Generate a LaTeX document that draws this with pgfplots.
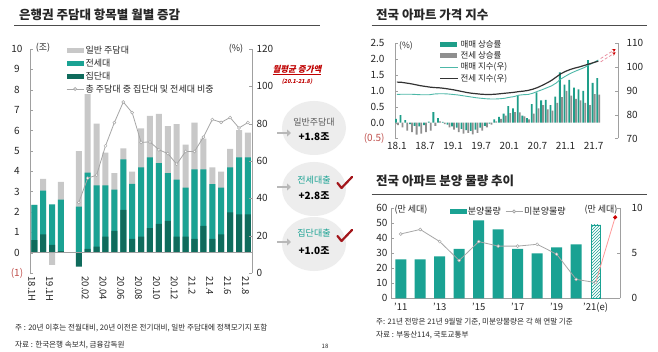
\documentclass[border=0pt]{standalone}
\usepackage{fontspec}
\setmainfont{Noto Sans CJK KR}
\newfontfamily\krit{Noto Sans CJK KR}[FakeSlant=0.22]
\usepackage{pgfplots}
\usepackage{pgfplotstable}
\pgfplotsset{compat=1.18}
\usetikzlibrary{patterns,arrows.meta}
\definecolor{tealA}{HTML}{1AA293}
\definecolor{tealD}{HTML}{0F6B5C}
\definecolor{lgray}{HTML}{C8C8C8}
\definecolor{lngray}{HTML}{A6A6A6}
\definecolor{negred}{HTML}{C0504D}
\definecolor{axgray}{HTML}{A0A0A0}
\definecolor{txt}{HTML}{262626}
\definecolor{tealB}{HTML}{1E9E89}
\definecolor{gbar}{HTML}{8F8F8F}
\definecolor{tealL}{HTML}{4DB8A8}
\definecolor{dred}{HTML}{A3161B}
\definecolor{pinkA}{HTML}{E8879A}
\definecolor{circ}{HTML}{EDEDED}

\pgfplotsset{
 barleg/.style={legend image code/.code={\fill[##1] (0pt,-2.5pt) rectangle (17pt,2.5pt);}},
 lineleg/.style={legend image code/.code={\draw[##1] (0pt,0pt) -- (18pt,0pt);}},
}

% left chart: cumulative tops (gray=total, teal=jeonse+group, dark=group), r = share (%)
\pgfplotstableread{
i g t d r
0 2.34 2.34 0.62 nan
1 3.62 3.05 0.90 nan
2 -0.60 2.37 0.38 nan
3 3.47 2.60 0.07 nan
5 4.99 2.26 -0.69 37.8
6 7.79 3.93 0.18 50.8
7 6.33 3.30 0.29 52.4
8 4.91 3.30 0.79 68.1
9 3.90 3.10 1.07 80.6
10 5.12 4.58 2.10 91.6
11 3.98 3.38 0.67 85.9
12 6.10 4.19 0.79 70.0
13 6.71 4.68 1.20 70.2
14 6.81 4.40 1.41 66.0
15 6.21 3.90 1.56 64.0
16 6.31 3.58 0.79 58.3
17 5.30 3.19 0.79 65.1
18 6.38 4.09 0.67 65.1
19 5.60 4.09 1.31 72.8
20 4.19 3.37 0.67 82.2
21 3.98 3.19 0.90 80.7
22 5.09 4.19 1.98 83.3
23 6.02 4.68 1.88 77.7
24 5.89 4.68 1.88 80.6
}\tabL

% top right: month, sale %, jeonse %, sale index, jeonse index
\pgfplotstableread{
m s j a b
0 0.12 -0.08 88.5 93.7
1 0.24 -0.15 88.6 93.6
2 0.08 -0.25 88.6 93.3
3 -0.05 -0.30 88.6 93.0
4 -0.10 -0.38 88.5 92.6
5 -0.12 -0.35 88.4 92.2
6 -0.08 -0.30 88.4 91.9
7 0.03 -0.25 88.4 91.6
8 0.33 -0.10 88.7 91.4
9 0.14 0.04 88.8 91.3
10 0.02 -0.05 88.8 91.1
11 -0.06 -0.15 88.7 90.8
12 -0.12 -0.22 88.5 90.5
13 -0.16 -0.30 88.3 90.1
14 -0.20 -0.35 88.0 89.7
15 -0.24 -0.32 87.7 89.3
16 -0.26 -0.37 87.4 89.0
17 -0.22 -0.32 87.1 88.8
18 -0.16 -0.25 86.9 88.6
19 -0.10 -0.15 86.7 88.5
20 -0.03 -0.06 86.6 88.5
21 0.10 0.04 86.6 88.6
22 0.18 0.12 86.7 88.8
23 0.28 0.22 86.9 89.0
24 0.52 0.30 87.3 89.2
25 0.45 0.33 87.6 89.4
26 0.86 0.32 88.2 89.7
27 0.22 0.20 88.4 89.9
28 0.14 0.10 88.5 90.2
29 0.58 0.28 89.0 90.7
30 0.95 0.45 89.8 91.4
31 0.70 0.55 90.5 92.3
32 0.72 0.42 91.3 93.3
33 0.55 0.38 92.1 94.4
34 0.82 0.62 93.3 95.8
35 1.58 0.80 95.0 97.2
36 1.20 1.00 96.2 98.2
37 1.35 0.85 97.3 99.0
38 1.10 0.75 98.2 99.6
39 1.05 0.70 99.0 100.1
40 1.00 0.62 99.8 100.7
41 1.97 0.55 100.9 101.3
42 1.25 0.90 101.9 101.9
43 1.40 0.88 103.0 102.5
}\tabR

% bottom right: year index, supply (10k units), unsold (10k units)
\pgfplotstableread{
k v u
0 26 7.15
1 26 7.65
2 28 6.30
3 33 4.20
4 52 6.30
5 46 5.80
6 33 5.80
7 30 6.00
8 34 4.90
9 36 2.10
10 nan 1.75
}\tabB

\begin{document}
\begin{tikzpicture}[x=1pt,y=1pt]
\path[use as bounding box] (0,0) rectangle (658,351);
\fill[white] (0,0) rectangle (658,351);

% ---------- titles and rules
\node[anchor=west, inner sep=0, text=txt, font=\fontsize{12.5}{14}\selectfont\bfseries] at (19,336) {은행권 주담대 항목별 월별 증감};
\draw[black!70, line width=0.6pt] (14,325.3) -- (320,325.3);
\node[anchor=west, inner sep=0, text=txt, font=\fontsize{12.5}{14}\selectfont\bfseries] at (376,336) {전국 아파트 가격 지수};
\draw[black!70, line width=0.6pt] (371.7,325.3) -- (646.7,325.3);
\node[anchor=west, inner sep=0, text=txt, font=\fontsize{12.5}{14}\selectfont\bfseries] at (376,170) {전국 아파트 분양 물량 추이};
\draw[black!70, line width=0.6pt] (371.7,156.7) -- (646.7,156.7);

% ---------- left chart
\begin{axis}[
 at={(30pt,78pt)}, anchor=south west, scale only axis, width=222pt, height=224pt,
 xmin=-0.48, xmax=24.46, ymin=-1, ymax=10,
 axis y line*=left, axis x line*=bottom,
 x axis line style={opacity=0}, xtick style={draw=none},
 y axis line style={draw=axgray, line width=0.6pt}, ytick style={draw=axgray},
 tick align=inside, major tick length=3pt,
 xtick={0,2,6,8,10,12,14,16,18,20,22,24},
 xticklabels={18.1H,19.1H,20.02,20.04,20.06,20.08,20.10,20.12,21.2,21.4,21.6,21.8},
 xticklabel style={rotate=-90, anchor=west, font=\fontsize{9.5}{10}\selectfont, text=txt, yshift=-2.5pt},
 ytick={-1,0,...,10},
 yticklabels={{\textcolor{negred}{(1)}},0,1,2,3,4,5,6,7,8,9,10},
 yticklabel style={anchor=center, xshift=-13pt, font=\fontsize{10}{11}\selectfont, text=txt},
 legend style={at={(0.162,1.02)}, anchor=north west, draw=none, fill=none,
   font=\fontsize{9}{10}\selectfont, text=txt, row sep=0.6pt, inner sep=0pt,
   nodes={inner sep=1.6pt}},
 legend cell align=left,
]
\addplot[ybar, bar width=6pt, bar shift=0pt, fill=lgray, draw=none, barleg] table[x=i,y=g]{\tabL};
\addplot[ybar, bar width=6pt, bar shift=0pt, fill=tealA, draw=none, barleg] table[x=i,y=t]{\tabL};
\addplot[ybar, bar width=6pt, bar shift=0pt, fill=tealD, draw=none, barleg] table[x=i,y=d]{\tabL};
\addlegendimage{lngray, line width=0.8pt, mark=*, mark size=1.5pt, mark options={fill=white, draw=lngray}}
\legend{일반 주담대, 전세대, 집단대, 총 주담대 중 집단대 및 전세대 비중}
\draw[axgray, line width=0.6pt] (axis cs:-0.48,0) -- (axis cs:24.46,0);
\end{axis}
\begin{axis}[
 at={(30pt,78pt)}, anchor=south west, scale only axis, width=222pt, height=224pt,
 xmin=-0.48, xmax=24.46, ymin=0, ymax=120,
 axis y line*=right, axis x line=none,
 y axis line style={draw=axgray, line width=0.6pt}, ytick style={draw=axgray},
 tick align=inside, major tick length=3pt,
 ytick={0,20,...,120},
 yticklabel style={font=\fontsize{10}{11}\selectfont, text=txt, xshift=1pt},
 /pgf/number format/assume math mode=true,
]
\addplot[lngray, line width=0.8pt, mark=*, mark size=1.5pt, mark options={fill=white, draw=lngray, line width=0.5pt}] table[x=i,y=r]{\tabL};
\end{axis}
\node[text=txt, font=\fontsize{9}{10}\selectfont, inner sep=0] at (43,303) {(조)};
\node[text=txt, font=\fontsize{9}{10}\selectfont, inner sep=0] at (236,302) {(\%)};

% ---------- left annotations
\begin{scope}
\clip (270,60) rectangle (352,300);
\fill[circ] (314,223) ellipse (32 and 27);
\fill[circ] (314,162) ellipse (32 and 27);
\fill[circ] (314,107) ellipse (32 and 27);
\end{scope}
\node[text=red!75!black, font=\fontsize{8.5}{9}\selectfont\krit\bfseries, inner sep=0] at (297,281) {\underline{월평균 증가액}};
\node[text=red!75!black, font=\fontsize{5.5}{6}\selectfont\krit\bfseries, inner sep=0] at (297,269) {(20.1-21.8)};
\foreach \yy in {218,164,109}{
 \draw[-{Triangle[length=4pt,width=7pt]}, line width=2.8pt, black!28] (277,\yy) -- (291,\yy);
}
\node[text=black!65, font=\fontsize{9}{10}\selectfont, inner sep=0] at (314,229) {일반주담대};
\node[text=black, font=\fontsize{10}{11}\selectfont\bfseries, inner sep=0] at (314,214) {+1.8조};
\node[text=tealA, font=\fontsize{9}{10}\selectfont, inner sep=0] at (314,171) {전세대출};
\node[text=black, font=\fontsize{10}{11}\selectfont\bfseries, inner sep=0] at (314,155) {+2.8조};
\node[text=tealA, font=\fontsize{9}{10}\selectfont, inner sep=0] at (314,118) {집단대출};
\node[text=black, font=\fontsize{10}{11}\selectfont\bfseries, inner sep=0] at (314,100) {+1.0조};
\draw[dred, line width=2.2pt, line cap=round, line join=round] (337.5,168) -- (341.5,163) -- (352,174);
\draw[dred, line width=2.2pt, line cap=round, line join=round] (337.5,115) -- (341.5,110) -- (352,121);

% ---------- left footnotes
\node[anchor=west, text=txt, font=\fontsize{7.6}{8}\selectfont, inner sep=0] at (15,23) {주 : 20년 이후는 전월대비, 20년 이전은 전기대비, 일반 주담대에 정책모기지 포함};
\node[anchor=west, text=txt, font=\fontsize{7.6}{8}\selectfont, inner sep=0] at (15,6) {자료 : 한국은행 속보치, 금융감독원};
\node[text=txt, font=\fontsize{6}{7}\selectfont, inner sep=0] at (325,5) {18};

% ---------- top right chart
\begin{axis}[
 at={(395pt,212.5pt)}, anchor=south west, scale only axis, width=223pt, height=95.2pt,
 xmin=-0.4, xmax=47.2, ymin=-0.5, ymax=2.5,
 axis y line*=left, axis x line*=bottom,
 x axis line style={opacity=0}, xtick style={draw=none},
 y axis line style={draw=axgray, line width=0.6pt}, ytick style={draw=axgray},
 tick align=inside, major tick length=3pt,
 xtick={0,6,...,42},
 xticklabels={18.1,18.7,19.1,19.7,20.1,20.7,21.1,21.7},
 xticklabel style={font=\fontsize{10}{11}\selectfont, text=txt},
 ytick={-0.5,0,...,2.5},
 yticklabels={{\textcolor{negred}{(0.5)}},0.0,0.5,1.0,1.5,2.0,2.5},
 yticklabel style={font=\fontsize{10}{11}\selectfont, text=txt, xshift=-7pt},
 legend style={at={(0.2,1.05)}, anchor=north west, draw=none, fill=none,
   font=\fontsize{8.5}{9}\selectfont, text=txt, row sep=-0.2pt, inner sep=0pt,
   nodes={inner sep=1.5pt}},
 legend cell align=left,
]
\addplot[ybar, bar width=1.8pt, bar shift=-1pt, fill=tealB, draw=none, barleg] table[x=m,y=s]{\tabR};
\addplot[ybar, bar width=1.8pt, bar shift=1pt, fill=gbar, draw=none, barleg] table[x=m,y=j]{\tabR};
\addlegendimage{tealL, line width=0.9pt, lineleg}
\addlegendimage{black!80, line width=1.2pt, lineleg}
\legend{매매 상승률, 전세 상승률, 매매 지수(우), 전세 지수(우)}
\end{axis}
\begin{axis}[
 at={(395pt,212.5pt)}, anchor=south west, scale only axis, width=223pt, height=95.2pt,
 xmin=-0.4, xmax=47.2, ymin=70, ymax=110, clip=false,
 axis y line*=right, axis x line=none,
 y axis line style={draw=axgray, line width=0.6pt}, ytick style={draw=axgray},
 tick align=inside, major tick length=3pt,
 ytick={70,80,...,110},
 yticklabel style={font=\fontsize{10}{11}\selectfont, text=txt, xshift=5pt},
 /pgf/number format/assume math mode=true,
]
\addplot[tealL, line width=0.9pt] table[x=m,y=a]{\tabR};
\addplot[black!80, line width=1.2pt] table[x=m,y=b]{\tabR};
\addplot[pinkA, densely dashed, line width=0.7pt, -{Stealth[length=3.5pt,width=3.5pt,red!80!black]}] coordinates {(43.5,103.6) (46.7,107.6)};
\addplot[pinkA, densely dashed, line width=0.7pt, -{Stealth[length=3.5pt,width=3.5pt,red!80!black]}] coordinates {(43.5,102.2) (46.7,106.2)};
\end{axis}
\node[text=txt, font=\fontsize{8.5}{9}\selectfont, inner sep=0] at (406,305) {(\%)};

% ---------- bottom right chart
\begin{axis}[
 at={(391pt,52.7pt)}, anchor=south west, scale only axis, width=229pt, height=90pt,
 xmin=-0.5, xmax=11.25, ymin=0, ymax=60,
 axis y line*=left, axis x line*=bottom,
 x axis line style={draw=axgray, line width=0.6pt}, xtick style={draw=none},
 y axis line style={draw=axgray, line width=0.6pt}, ytick style={draw=axgray},
 tick align=inside, major tick length=3pt,
 xtick={0,2,...,10},
 xticklabels={'11,'13,'15,'17,'19,'21(e)},
 xticklabel style={font=\fontsize{9.5}{10}\selectfont, text=txt, yshift=-1pt},
 ytick={0,10,...,60},
 yticklabel style={font=\fontsize{10}{11}\selectfont, text=txt},
 /pgf/number format/assume math mode=true,
 legend columns=2,
 legend style={at={(0.255,0.965)}, anchor=west, draw=none, fill=none,
   font=\fontsize{9}{10}\selectfont, text=txt, inner sep=0pt,
   nodes={inner sep=1.2pt}, /tikz/every even column/.append style={column sep=3pt}},
]
\addplot[ybar, bar width=11pt, bar shift=0pt, fill=tealA, draw=none, barleg] table[x=k,y=v]{\tabB};
\addlegendimage{lngray, line width=0.8pt, mark=*, mark size=1.5pt, mark options={fill=white, draw=lngray}}
\legend{분양물량, 미분양물량}
\addplot[ybar, bar width=9pt, bar shift=0pt, draw=tealA, fill=white, postaction={pattern=north east lines, pattern color=tealA}, forget plot] coordinates {(10,49)};
\end{axis}
\begin{axis}[
 at={(391pt,52.7pt)}, anchor=south west, scale only axis, width=229pt, height=90pt,
 xmin=-0.5, xmax=11.25, ymin=0, ymax=10, clip=false,
 axis y line*=right, axis x line=none,
 y axis line style={draw=axgray, line width=0.6pt}, ytick style={draw=axgray},
 tick align=inside, major tick length=3pt,
 ytick={0,5,10},
 yticklabel style={font=\fontsize{10}{11}\selectfont, text=txt, xshift=8pt},
 /pgf/number format/assume math mode=true,
]
\addplot[lngray, line width=0.8pt, mark=*, mark size=1.5pt, mark options={fill=white, draw=lngray, line width=0.5pt}] table[x=k,y=u]{\tabB};
\addplot[red!40, line width=0.8pt, mark=*, mark indices={2}, mark size=1.6pt, mark options={fill=red!80!black, draw=red!80!black}] coordinates {(10,1.75) (11,9.0)};
\end{axis}
\node[text=txt, font=\fontsize{9}{10}\selectfont, inner sep=0] at (411,141) {(만 세대)};
\node[text=txt, font=\fontsize{9}{10}\selectfont, inner sep=0] at (601,141) {(만 세대)};

% ---------- right footnotes
\node[anchor=west, text=txt, font=\fontsize{7.6}{8}\selectfont, inner sep=0] at (376,29) {주: 21년 전망은 21년 9월말 기준, 미분양물량은 각 해 연말 기준};
\node[anchor=west, text=txt, font=\fontsize{7.6}{8}\selectfont, inner sep=0] at (376,16) {자료 : 부동산114, 국토교통부};
\end{tikzpicture}
\end{document}
